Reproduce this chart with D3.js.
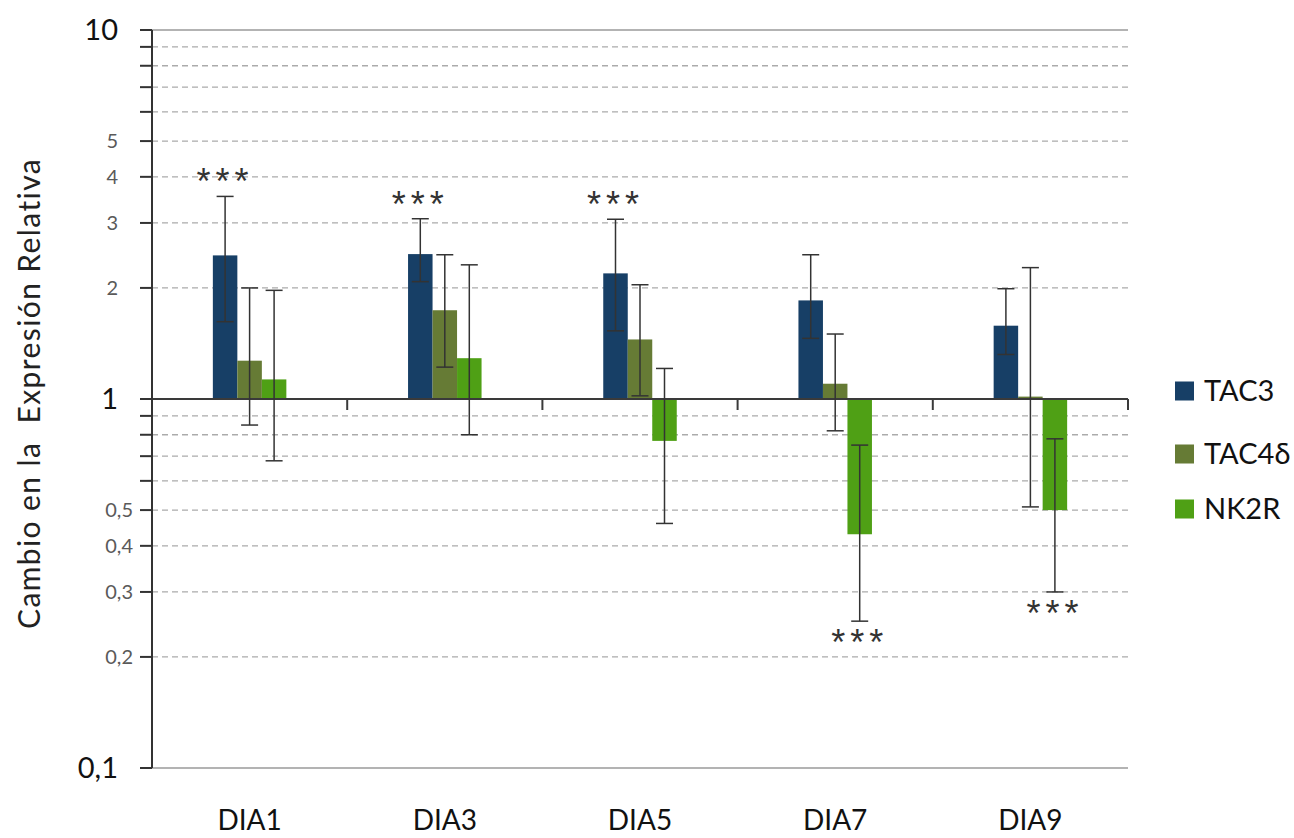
<!DOCTYPE html>
<html>
<head>
<meta charset="utf-8">
<script src="https://cdn.jsdelivr.net/npm/d3@7"></script>
<style>
  html, body { margin: 0; padding: 0; background: #fff; }
  svg { display: block; font-family: Lato, "Open Sans", sans-serif; }
</style>
</head>
<body>
<svg id="chart" width="1294" height="838"></svg>
<script>
// Days of the time course
const categories = ["DIA1", "DIA3", "DIA5", "DIA7", "DIA9"];

// Relative expression (fold change) per gene
const seriesNames = ["TAC3", "TAC4δ", "NK2R"];
const tac3  = [2.45, 2.47, 2.19, 1.85, 1.58];
const tac4d = [1.27, 1.74, 1.45, 1.10, 1.015];
const nk2r  = [1.13, 1.29, 0.77, 0.43, 0.50];

// Error bar bounds (upper / lower)
const tac3Hi  = [3.54, 3.08, 3.07, 2.46, 1.99];
const tac3Lo  = [1.62, 2.08, 1.53, 1.46, 1.32];
const tac4dHi = [2.00, 2.46, 2.04, 1.50, 2.27];
const tac4dLo = [0.85, 1.22, 1.02, 0.82, 0.51];
const nk2rHi  = [1.97, 2.31, 1.21, 0.75, 0.78];
const nk2rLo  = [0.68, 0.80, 0.46, 0.25, 0.30];

// Significance marks (series index, day index)
const sigSeries = [0, 0, 0, 2, 2];
const sigDay    = [0, 1, 2, 3, 4];
const sigText   = "***";

// Y axis tick labels
const majorTicks = [10, 1, 0.1];
const majorLabels = ["10", "1", "0,1"];
const minorLabelTicks = [5, 4, 3, 2, 0.5, 0.4, 0.3, 0.2];
const minorLabels = ["5", "4", "3", "2", "0,5", "0,4", "0,3", "0,2"];
const gridTicks = [9, 8, 7, 6, 5, 4, 3, 2, 0.9, 0.8, 0.7, 0.6, 0.5, 0.4, 0.3, 0.2];

const yTitle = "Cambio en la\u00a0 Expresión Relativa";

const colors = ["#173f66", "#667b35", "#4fa015"];

const values = [tac3, tac4d, nk2r];
const his = [tac3Hi, tac4dHi, nk2rHi];
const los = [tac3Lo, tac4dLo, nk2rLo];

const svg = d3.select("#chart");

const x0 = 152, x1 = 1128;
const y = d3.scaleLog().domain([0.1, 10]).range([768, 30]);
const x = d3.scaleBand().domain(categories).range([x0, x1]);
const barW = 24.5;
const xs = d3.scaleBand().domain(seriesNames).range([0, barW * 3]);

// Dashed grid
svg.append("g").selectAll("line").data(gridTicks).join("line")
  .attr("x1", x0).attr("x2", x1)
  .attr("y1", d => y(d)).attr("y2", d => y(d))
  .attr("stroke", "#ababab").attr("stroke-width", 1.3)
  .attr("stroke-dasharray", "6,4");

// Top and bottom frame lines
svg.append("g").selectAll("line").data([10, 0.1]).join("line")
  .attr("x1", x0).attr("x2", x1)
  .attr("y1", d => y(d)).attr("y2", d => y(d))
  .attr("stroke", "#9a9a9a").attr("stroke-width", 1.3);

// Bars from the baseline at 1
const bars = [];
values.forEach((arr, s) => arr.forEach((v, i) => bars.push({s, i, v, hi: his[s][i], lo: los[s][i]})));

const barX = d => x(categories[d.i]) + (x.bandwidth() - barW * 3) / 2 + xs(seriesNames[d.s]);

svg.append("g").selectAll("rect").data(bars).join("rect")
  .attr("x", barX)
  .attr("width", barW)
  .attr("y", d => Math.min(y(d.v), y(1)))
  .attr("height", d => Math.abs(y(d.v) - y(1)))
  .attr("fill", d => colors[d.s]);

// Category axis crossing at 1
const gx = svg.append("g");
gx.append("line").attr("x1", x0).attr("x2", x1).attr("y1", y(1)).attr("y2", y(1))
  .attr("stroke", "#3a3a3a").attr("stroke-width", 2);
const catEdges = categories.slice(1).map(c => x(c)).concat([x1]);
gx.selectAll("line.tick").data(catEdges).join("line").attr("class", "tick")
  .attr("x1", d => d).attr("x2", d => d)
  .attr("y1", y(1)).attr("y2", y(1) + 11)
  .attr("stroke", "#3a3a3a").attr("stroke-width", 2);

// Error bars
const capW = 17;
const eg = svg.append("g").attr("stroke", "#333").attr("stroke-width", 1.5);
bars.forEach(d => {
  const cx = barX(d) + barW / 2;
  eg.append("line").attr("x1", cx).attr("x2", cx).attr("y1", y(d.hi)).attr("y2", y(d.lo));
  eg.append("line").attr("x1", cx - capW / 2).attr("x2", cx + capW / 2).attr("y1", y(d.hi)).attr("y2", y(d.hi));
  eg.append("line").attr("x1", cx - capW / 2).attr("x2", cx + capW / 2).attr("y1", y(d.lo)).attr("y2", y(d.lo));
});

// Y axis
const gy = svg.append("g");
gy.append("line").attr("x1", x0).attr("x2", x0).attr("y1", y(10)).attr("y2", y(0.1))
  .attr("stroke", "#333").attr("stroke-width", 2);
gy.selectAll("line.tick").data(majorTicks.concat(gridTicks)).join("line").attr("class", "tick")
  .attr("x1", x0 - 12).attr("x2", x0)
  .attr("y1", d => y(d)).attr("y2", d => y(d))
  .attr("stroke", "#333").attr("stroke-width", 2);

gy.selectAll("text.major").data(majorTicks).join("text").attr("class", "major")
  .attr("x", x0 - 34).attr("y", d => y(d))
  .attr("dy", "0.36em")
  .attr("text-anchor", "end")
  .attr("font-size", 29).attr("fill", "#111")
  .text((d, i) => majorLabels[i]);

gy.selectAll("text.minor").data(minorLabelTicks).join("text").attr("class", "minor")
  .attr("x", d => d < 1 ? x0 - 19 : x0 - 34).attr("y", d => y(d))
  .attr("dy", "0.36em")
  .attr("text-anchor", "end")
  .attr("font-size", 20).attr("fill", "#5a5a5a")
  .text((d, i) => minorLabels[i]);

// Category labels
svg.append("g").selectAll("text").data(categories).join("text")
  .attr("x", d => x(d) + x.bandwidth() / 2)
  .attr("y", 830)
  .attr("text-anchor", "middle")
  .attr("font-size", 28).attr("fill", "#111")
  .text(d => d);

// Y title
svg.append("text")
  .attr("transform", `translate(40,${(155 + 632) / 2}) rotate(-90)`)
  .attr("text-anchor", "middle")
  .attr("font-size", 30).attr("letter-spacing", 1.4).attr("fill", "#222")
  .text(yTitle);

// Significance asterisks
const starFs = 36;
svg.append("g").selectAll("text").data(sigSeries.map((s, k) => bars.find(b => b.s === s && b.i === sigDay[k])))
  .join("text")
  .attr("x", d => barX(d) + barW / 2)
  .attr("y", d => d.v >= 1 ? y(d.hi) - 23 : y(d.lo) + 13)
  .attr("dy", starFs * 0.58)
  .attr("text-anchor", "middle")
  .attr("font-family", "'Liberation Sans', Arial, sans-serif")
  .attr("font-size", starFs)
  .attr("letter-spacing", 5)
  .attr("fill", "#333")
  .text(sigText);

// Legend
const lg = svg.append("g").attr("transform", "translate(1175,0)");
const legY = [391, 454, 509];
seriesNames.forEach((n, i) => {
  lg.append("rect").attr("x", 0).attr("y", legY[i] - 9.5).attr("width", 19).attr("height", 19).attr("fill", colors[i]);
  lg.append("text").attr("x", 29).attr("y", legY[i]).attr("dy", "0.36em")
    .attr("font-size", 29).attr("fill", "#111").text(n);
});
</script>
</body>
</html>
